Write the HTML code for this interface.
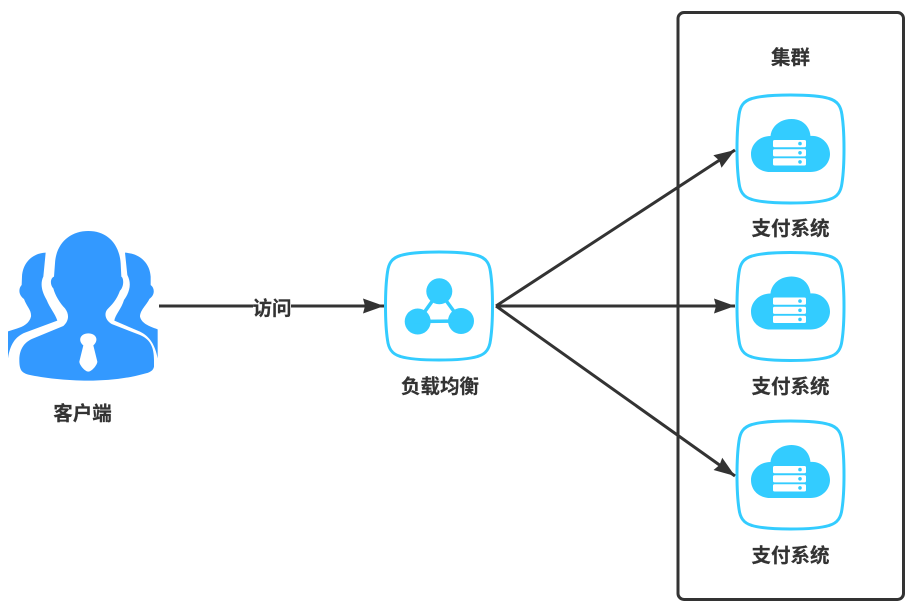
<!DOCTYPE html>
<html><head><meta charset="utf-8"><style>
html,body{margin:0;padding:0;background:#fff;width:916px;height:616px;overflow:hidden}
svg{display:block}
text{font-family:"Liberation Sans","Noto Sans CJK SC",sans-serif;font-weight:700;font-size:19.5px;fill:#333;stroke:#333;stroke-width:.2;text-anchor:middle}
</style></head><body>
<svg width="916" height="616" viewBox="0 0 916 616" xmlns="http://www.w3.org/2000/svg">
<defs>
<path id="sq" d="M53.5 0C72 0 84 1 92 3.500C101 6 104 12 105 20C106.500 30 107 42 107 54C107 66 106.500 78 105 88C104 96 101 102 92 104.500C84 107 72 108 53.500 108C35 108 23 107 15 104.500C6 102 3 96 2 88C.5 78 0 66 0 54C0 42 .5 30 2 20C3 12 6 6 15 3.500C23 1 35 0 53.500 0Z" fill="#fff" stroke="#33ccff" stroke-width="3"/>
<g id="cloud">
<path fill="#33ccff" d="M-20 23C-32 23-39.500 15-39.500 5C-39.500-5-31-13-20-13C-19-23-10-30 1-30C12-30 19-23 20-13C31-14 39.500-5 39.500 5C39.500 15 31 23 20 23Z"/>
<g fill="#fff"><rect x="-17.500" y="-9" width="33" height="7.200" rx="1.500"/><rect x="-17.500" y="0.200" width="33" height="7.200" rx="1.500"/><rect x="-17.500" y="9.300" width="33" height="7.200" rx="1.500"/></g>
<g fill="#33ccff"><circle cx="9.500" cy="-5.400" r="1.800"/><circle cx="9.500" cy="3.800" r="1.800"/><circle cx="9.500" cy="12.900" r="1.800"/></g>
</g>
<marker id="ar" markerUnits="userSpaceOnUse" markerWidth="26" markerHeight="20" refX="21" refY="10" orient="auto" viewBox="0 0 26 20"><path d="M0 2.500L21 10L0 17.500L2 10Z" fill="#333"/></marker>
</defs>

<rect x="678" y="12.500" width="225.500" height="587" rx="6" fill="#fff" stroke="#333" stroke-width="3"/>

<g transform="translate(0,220) scale(.33333)" fill="#3399ff">
<path d="M137 98C95 100 68 130 66 170L65 195C55 205 55 225 72 237C80 260 95 270 93 290C88 310 70 320 50 326L24 334L24 415C30 375 45 350 75 338L172 302C165 280 150 265 140 240C125 215 120 190 130 170Z"/>
<path d="M375 98C420 100 450 130 452 170L452 195C465 205 465 225 448 237C440 255 420 270 420 290C425 310 445 318 473 328L473 415C465 375 450 350 420 335L343 302C345 285 365 265 372 240C390 215 395 190 382 165Z"/>
<path d="M265 33C320 33 358 70 362 130L364 170C372 175 372 200 360 212C350 240 335 255 322 268C312 280 315 300 335 312L420 345C450 358 462 380 462 420L462 440C460 452 450 458 430 462C380 476 320 482 265 482C200 482 130 474 85 464C65 458 58 450 58 420C58 385 75 365 100 355L190 318C205 305 210 285 195 265C180 250 165 225 160 205C150 195 150 175 162 170L165 130C168 70 210 33 265 33Z"/>
<path fill="#fff" d="M265 340C290 340 297 362 280 376L292 425C292 435 275 455 265 455C255 455 238 435 238 425L250 376C233 362 240 340 265 340Z"/>
</g>

<use href="#sq" x="385.500" y="252"/>
<g fill="#33ccff"><circle cx="439.300" cy="291.300" r="13"/><circle cx="417.700" cy="321.500" r="13"/><circle cx="461" cy="321" r="13"/></g>
<path d="M439.300 291.300L417.700 321.500L461 321Z" fill="none" stroke="#33ccff" stroke-width="3.500"/>

<use href="#sq" x="737" y="95"/><use href="#cloud" transform="translate(790.500,149)"/>
<use href="#sq" x="737" y="252.500"/><use href="#cloud" transform="translate(790.500,306.500)"/>
<use href="#sq" x="737" y="421"/><use href="#cloud" transform="translate(790.500,475)"/>

<g fill="none" stroke="#333" stroke-width="3">
<path d="M159 306H384" marker-end="url(#ar)"/>
<path d="M496 306L735 150" marker-end="url(#ar)"/>
<path d="M496 306H735" marker-end="url(#ar)"/>
<path d="M496 306L735 476" marker-end="url(#ar)"/>
</g>

<rect x="253" y="298" width="38" height="20" fill="#fff"/>
<text x="272" y="315">访问</text>
<text x="82.500" y="420">客户端</text>
<text x="440" y="393">负载均衡</text>
<text x="790.500" y="64">集群</text>
<text x="790.500" y="235">支付系统</text>
<text x="790.500" y="393">支付系统</text>
<text x="790.500" y="562">支付系统</text>
</svg>
</body></html>
